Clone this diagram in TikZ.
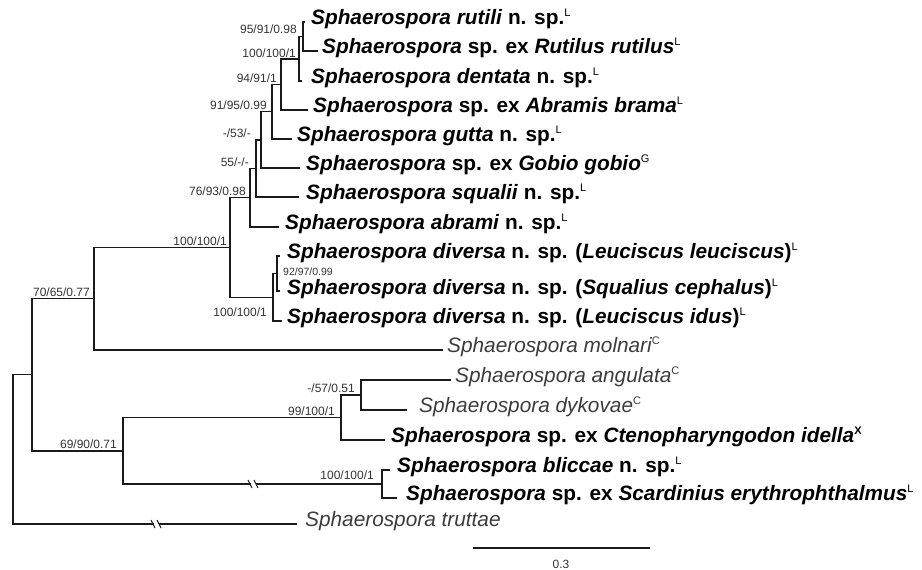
\documentclass[tikz,border=0pt]{standalone}
\usepackage{fontspec}
\setmainfont{Liberation Sans}
\newcommand{\tsup}[1]{\raisebox{8pt}{\normalfont\fontsize{11}{11}\selectfont #1}}
\newcommand{\tsupb}[1]{\raisebox{8pt}{\normalfont\bfseries\fontsize{11}{11}\selectfont #1}}
\definecolor{linec}{HTML}{1A1A1A}
\definecolor{labc}{HTML}{333333}
\definecolor{regc}{HTML}{3C3C3C}
\begin{document}
\begin{tikzpicture}[x=1pt,y=-1pt,
  br/.style={draw=linec,line width=1.5pt,line join=miter},
  taxb/.style={anchor=mid west,inner sep=0pt,text=black,font=\fontsize{20.8}{24}\selectfont\bfseries},
  taxr/.style={anchor=mid west,inner sep=0pt,text=regc,font=\fontsize{20.8}{24}\selectfont\itshape},
  lab/.style={anchor=base east,inner sep=0pt,text=labc,font=\fontsize{12}{12}\selectfont},
  brk/.style={draw=linec,line width=1.1pt}]
\useasboundingbox (0,0) rectangle (922,570);
% internal nodes
\coordinate (R) at (13,449.3);
\coordinate (A) at (32,374.7);
\coordinate (B) at (94,298.7);
\coordinate (C) at (230,247.5);
\coordinate (D) at (250,197.7);
\coordinate (H) at (256,168.4);
\coordinate (I) at (261,139.85);
\coordinate (J) at (272,111.7);
\coordinate (N3) at (281,84.4);
\coordinate (N2) at (299,58.75);
\coordinate (N1) at (303,36.5);
\coordinate (E) at (273,297.25);
\coordinate (F) at (277,273.5);
\coordinate (G) at (123,450.75);
\coordinate (L) at (341,417.5);
\coordinate (K) at (361,395);
\coordinate (M) at (382,484);
% tips
\coordinate (t1) at (305,22);
\coordinate (t2) at (318,51);
\coordinate (t3) at (302,81);
\coordinate (t4) at (308,110);
\coordinate (t5) at (292,139);
\coordinate (t6) at (300,168);
\coordinate (t7) at (299,197);
\coordinate (t8) at (279,227);
\coordinate (t9) at (280,256);
\coordinate (t10) at (280,291);
\coordinate (t11) at (282,321);
\coordinate (t12) at (443,350);
\coordinate (t13) at (451,380);
\coordinate (t14) at (407,410);
\coordinate (t15) at (385,440);
\coordinate (t16) at (390,470);
\coordinate (t17) at (397,498);
\coordinate (t18) at (297,524);
% branches
\draw[br] (A) -| (R);
\draw[br] (t18) -| (R);
\draw[br] (B) -| (A);
\draw[br] (G) -| (A);
\draw[br] (C) -| (B);
\draw[br] (t12) -| (B);
\draw[br] (D) -| (C);
\draw[br] (E) -| (C);
\draw[br] (H) -| (D);
\draw[br] (t8) -| (D);
\draw[br] (I) -| (H);
\draw[br] (t7) -| (H);
\draw[br] (J) -| (I);
\draw[br] (t6) -| (I);
\draw[br] (N3) -| (J);
\draw[br] (t5) -| (J);
\draw[br] (N2) -| (N3);
\draw[br] (t4) -| (N3);
\draw[br] (N1) -| (N2);
\draw[br] (t3) -| (N2);
\draw[br] (t1) -| (N1);
\draw[br] (t2) -| (N1);
\draw[br] (F) -| (E);
\draw[br] (t11) -| (E);
\draw[br] (t9) -| (F);
\draw[br] (t10) -| (F);
\draw[br] (L) -| (G);
\draw[br] (M) -| (G);
\draw[br] (K) -| (L);
\draw[br] (t15) -| (L);
\draw[br] (t13) -| (K);
\draw[br] (t14) -| (K);
\draw[br] (t16) -| (M);
\draw[br] (t17) -| (M);
% break marks
\coordinate (bk1) at (253,484);
\coordinate (bk2) at (156,524);
\foreach \b in {bk1,bk2}{
  \fill[white] ([xshift=-2.5pt,yshift=-2pt]\b) rectangle ([xshift=2.5pt,yshift=2pt]\b);
  \draw[brk] ([xshift=-5pt,yshift=4pt]\b) -- ([xshift=-1pt,yshift=-4pt]\b);
  \draw[brk] ([xshift=1pt,yshift=4pt]\b) -- ([xshift=5pt,yshift=-4pt]\b);
}
% taxa
\node[taxb] (n1) at (311,22) {\textit{Sphaerospora rutili} n. sp.\tsup{L}};
\node[taxb] (n2) at (322,51) {\textit{Sphaerospora} sp. ex \textit{Rutilus rutilus}\tsup{L}};
\node[taxb] (n3) at (311,81) {\textit{Sphaerospora dentata} n. sp.\tsup{L}};
\node[taxb] (n4) at (313,110) {\textit{Sphaerospora} sp. ex \textit{Abramis brama}\tsup{L}};
\node[taxb] (n5) at (297,139) {\textit{Sphaerospora gutta} n. sp.\tsup{L}};
\node[taxb] (n6) at (306,168) {\textit{Sphaerospora} sp. ex \textit{Gobio gobio}\tsup{G}};
\node[taxb] (n7) at (306,197) {\textit{Sphaerospora squalii} n. sp.\tsup{L}};
\node[taxb] (n8) at (285,227) {\textit{Sphaerospora abrami} n. sp.\tsup{L}};
\node[taxb] (n9) at (287,256) {\textit{Sphaerospora diversa} n. sp. (\textit{Leuciscus leuciscus})\tsup{L}};
\node[taxb] (n10) at (287,292) {\textit{Sphaerospora diversa} n. sp. (\textit{Squalius cephalus})\tsup{L}};
\node[taxb] (n11) at (287,321) {\textit{Sphaerospora diversa} n. sp. (\textit{Leuciscus idus})\tsup{L}};
\node[taxr] (n12) at (447,350) {Sphaerospora molnari\tsup{C}};
\node[taxr] (n13) at (455,380) {Sphaerospora angulata\tsup{C}};
\node[taxr] (n14) at (419,410) {Sphaerospora dykovae\tsup{C}};
\node[taxb] (n15) at (391,440) {\textit{Sphaerospora} sp. ex \textit{Ctenopharyngodon idella}\tsupb{X}};
\node[taxb] (n16) at (397,470) {\textit{Sphaerospora bliccae} n. sp.\tsup{L}};
\node[taxb] (n17) at (406,498) {\textit{Sphaerospora} sp. ex \textit{Scardinius erythrophthalmus}\tsup{L}};
\node[taxr] (n18) at (305,524) {Sphaerospora truttae};
% support labels
\node[lab] (l1) at (297,34) {95/91/0.98};
\node[lab] (l2) at (296,57) {100/100/1};
\node[lab] (l3) at (277,82) {94/91/1};
\node[lab] (l4) at (267,109) {91/95/0.99};
\node[lab] (l5) at (251,137) {-/53/-};
\node[lab] (l6) at (249,166) {55/-/-};
\node[lab] (l7) at (246,195) {76/93/0.98};
\node[lab] (l8) at (227,245) {100/100/1};
\node[lab,anchor=north east] (l9) at (267,308) {100/100/1};
\node[lab,anchor=base west,font=\fontsize{10.5}{10.5}\selectfont] (l10) at (283,275.5) {92/97/0.99};
\node[lab] (l11) at (90,296) {70/65/0.77};
\node[lab] (l12) at (117,448) {69/90/0.71};
\node[lab] (l13) at (355,392) {-/57/0.51};
\node[lab] (l14) at (335,415) {99/100/1};
\node[lab] (l15) at (374,479) {100/100/1};
% scale bar
\coordinate (sb1) at (473,548);
\coordinate (sb2) at (650,548);
\draw[br] (sb1) -- (sb2);
\node[inner sep=0pt,text=labc,font=\fontsize{12}{12}\selectfont] (sbl) at (561,564) {0.3};
\end{tikzpicture}
\end{document}
